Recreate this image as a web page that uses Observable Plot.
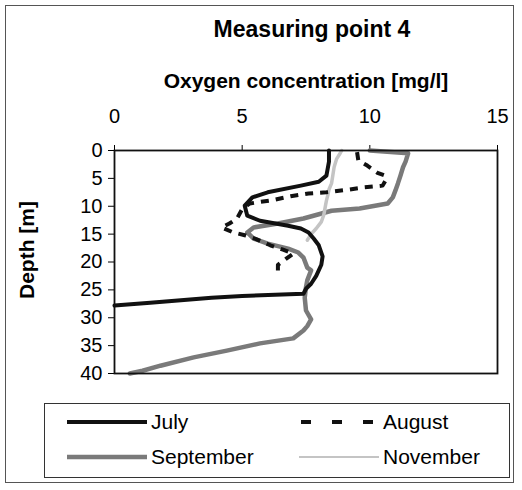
<!DOCTYPE html>
<html><head><meta charset="utf-8">
<script src="https://cdn.jsdelivr.net/npm/d3@7"></script>
<script src="https://cdn.jsdelivr.net/npm/@observablehq/plot@0.6"></script>
<style>
body{margin:0;background:#fff;font-family:"Liberation Sans",Arial,sans-serif;color:#000;}
#wrap{position:relative;width:522px;height:490px;overflow:hidden;}
#border{position:absolute;left:5px;top:5px;width:509px;height:478px;border:1.5px solid #555;box-sizing:border-box;}
#title{position:absolute;left:112px;width:400px;top:14px;text-align:center;font-weight:bold;font-size:23px;line-height:30px;}
#chart{position:absolute;left:0;top:0;}
#legend{position:absolute;left:44px;top:403px;width:466px;height:75px;border:1.5px solid #333;box-sizing:border-box;font-size:21px;}
.item{position:absolute;display:flex;align-items:center;height:30px;}
.item svg{display:block;margin-right:4px;}
svg [aria-label="x-axis label"] text, svg [aria-label="y-axis label"] text{font-weight:bold;font-size:21px;}
</style></head>
<body>
<div id="wrap">
  <div id="border"></div>
  <div id="title">Measuring point 4</div>
  <div id="chart"></div>
  <div id="legend"></div>
</div>
<script>
const xTicks = [0, 5, 10, 15];
const yTicks = [0, 5, 10, 15, 20, 25, 30, 35, 40];
const months = ["July", "August", "September", "November"];

const julyO2    = [8.4, 8.4, 8.3, 8.0, 7.3, 6.0, 5.4, 5.1, 5.2, 5.7, 6.8, 7.3, 7.6, 7.8, 8.0, 8.15, 8.1, 7.9, 7.7, 7.5, 7.4, 5.0, 3.8, 1.4, 0.0];
const julyDepth = [0, 2, 4.5, 5.6, 6.3, 7.5, 8.4, 9.9, 11.7, 12.6, 13.5, 14.0, 14.7, 15.8, 17.0, 19.0, 20.5, 22.5, 23.9, 24.8, 25.7, 26.1, 26.4, 27.3, 27.8];

const augO2    = [9.5, 9.55, 9.9, 10.3, 10.6, 10.6, 10.5, 9.8, 9.2, 8.3, 7.6, 6.9, 6.2, 5.3, 5.0, 4.8, 4.5, 4.2, 4.6, 5.1, 5.5, 6.1, 6.6, 7.0, 6.7, 6.4, 6.4];
const augDepth = [0.3, 1.8, 2.7, 4.0, 4.5, 5.5, 6.3, 6.6, 7.0, 7.5, 7.7, 8.2, 8.9, 9.5, 10.5, 12.2, 13.1, 13.8, 14.6, 15.2, 15.8, 17.0, 17.8, 18.5, 19.5, 20.5, 21.9];

const sepO2    = [10.0, 11.5, 11.4, 11.3, 11.2, 11.1, 11.0, 10.9, 10.7, 9.6, 8.5, 7.4, 6.4, 5.45, 5.2, 5.45, 6.0, 6.8, 7.2, 7.4, 7.55, 7.7, 7.55, 7.5, 7.45, 7.5, 7.7, 7.55, 7.4, 7.0, 5.7, 4.4, 3.1, 1.8, 1.1, 0.6];
const sepDepth = [0, 0.5, 2.0, 3.0, 4.5, 5.9, 7.2, 8.4, 9.5, 10.4, 10.8, 12.2, 13.1, 13.8, 14.7, 15.8, 16.7, 17.6, 18.3, 19.2, 21.0, 21.5, 23.3, 24.5, 26.4, 28.7, 30.3, 31.5, 32.3, 33.7, 34.6, 35.9, 37.1, 38.6, 39.5, 40.0];

const novO2    = [8.9, 8.85, 8.7, 8.6, 8.55, 8.5, 8.4, 8.35, 8.3, 8.25, 8.2, 8.1, 7.9, 7.7, 7.55];
const novDepth = [0, 0.4, 1.5, 3.0, 4.5, 5.9, 7.0, 8.1, 9.0, 10.2, 11.5, 12.8, 14.0, 15.0, 16.1];

const styles = {
  July:      {stroke: "#111", strokeWidth: 4, dash: null},
  August:    {stroke: "#111", strokeWidth: 4, dash: "8,7"},
  September: {stroke: "#7a7a7a", strokeWidth: 4.5, dash: null},
  November:  {stroke: "#c4c4c4", strokeWidth: 3.5, dash: null}
};

function rows(month, o2, depth) { return o2.map((v, i) => ({month, o2: v, depth: depth[i]})); }
const series = {
  July: rows("July", julyO2, julyDepth),
  August: rows("August", augO2, augDepth),
  September: rows("September", sepO2, sepDepth),
  November: rows("November", novO2, novDepth)
};

const lineMarks = ["September", "November", "July", "August"].map(m => Plot.line(series[m], {
  x: "o2", y: "depth", stroke: styles[m].stroke, strokeWidth: styles[m].strokeWidth,
  strokeDasharray: styles[m].dash || undefined, strokeLinejoin: "round", strokeLinecap: styles[m].dash ? "butt" : "round"
}));

const chart = Plot.plot({
  width: 522, height: 400,
  marginLeft: 114, marginRight: 25, marginTop: 150, marginBottom: 27,
  style: {fontFamily: "'Liberation Sans', Arial, sans-serif", fontSize: "20px", color: "#000", background: "transparent", overflow: "visible"},
  x: {domain: [0, 15], ticks: xTicks, axis: "top", label: "Oxygen concentration [mg/l]", labelArrow: "none", labelAnchor: "center", labelOffset: 77, tickSize: 6, tickPadding: 22, tickFormat: d => String(d)},
  y: {domain: [0, 40], reverse: true, ticks: yTicks, label: "Depth [m]", labelArrow: "none", labelAnchor: "center", labelOffset: 95, tickSize: 6, tickPadding: 6, tickFormat: d => String(d)},
  marks: [
    ...lineMarks,
    Plot.frame({stroke: "#111", strokeWidth: 1.8})
  ]
});
// strip any automatic arrow from axis labels
chart.querySelectorAll('[aria-label$="axis label"] text').forEach(t => {
  t.textContent = t.textContent.replace(/[\u2190-\u2193]/g, "").trim();
});
// nudge the rotated depth label slightly upward, as in the reference
chart.querySelectorAll('[aria-label="y-axis label"] text').forEach(t => t.setAttribute("dx", "12"));
document.getElementById("chart").appendChild(chart);

// legend
const legend = document.getElementById("legend");
const pos = {
  July: {left: 22, top: 3, w: 80},
  August: {left: 254, top: 3, w: 80},
  September: {left: 22, top: 38, w: 80},
  November: {left: 254, top: 38, w: 80}
};
months.forEach(m => {
  const s = styles[m];
  const div = document.createElement("div");
  div.className = "item";
  div.style.left = pos[m].left + "px";
  div.style.top = pos[m].top + "px";
  const ns = "http://www.w3.org/2000/svg";
  const svg = document.createElementNS(ns, "svg");
  svg.setAttribute("width", pos[m].w);
  svg.setAttribute("height", 10);
  const ln = document.createElementNS(ns, "line");
  ln.setAttribute("x1", m === "August" ? 2 : 0);
  ln.setAttribute("x2", pos[m].w);
  ln.setAttribute("y1", 5); ln.setAttribute("y2", 5);
  ln.setAttribute("stroke", s.stroke);
  ln.setAttribute("stroke-width", m === "November" ? 2 : s.strokeWidth);
  if (m === "August") ln.setAttribute("stroke-dasharray", "10,21");
  svg.appendChild(ln);
  div.appendChild(svg);
  const t = document.createElement("span");
  t.textContent = m;
  div.appendChild(t);
  legend.appendChild(div);
});
</script>
</body></html>
